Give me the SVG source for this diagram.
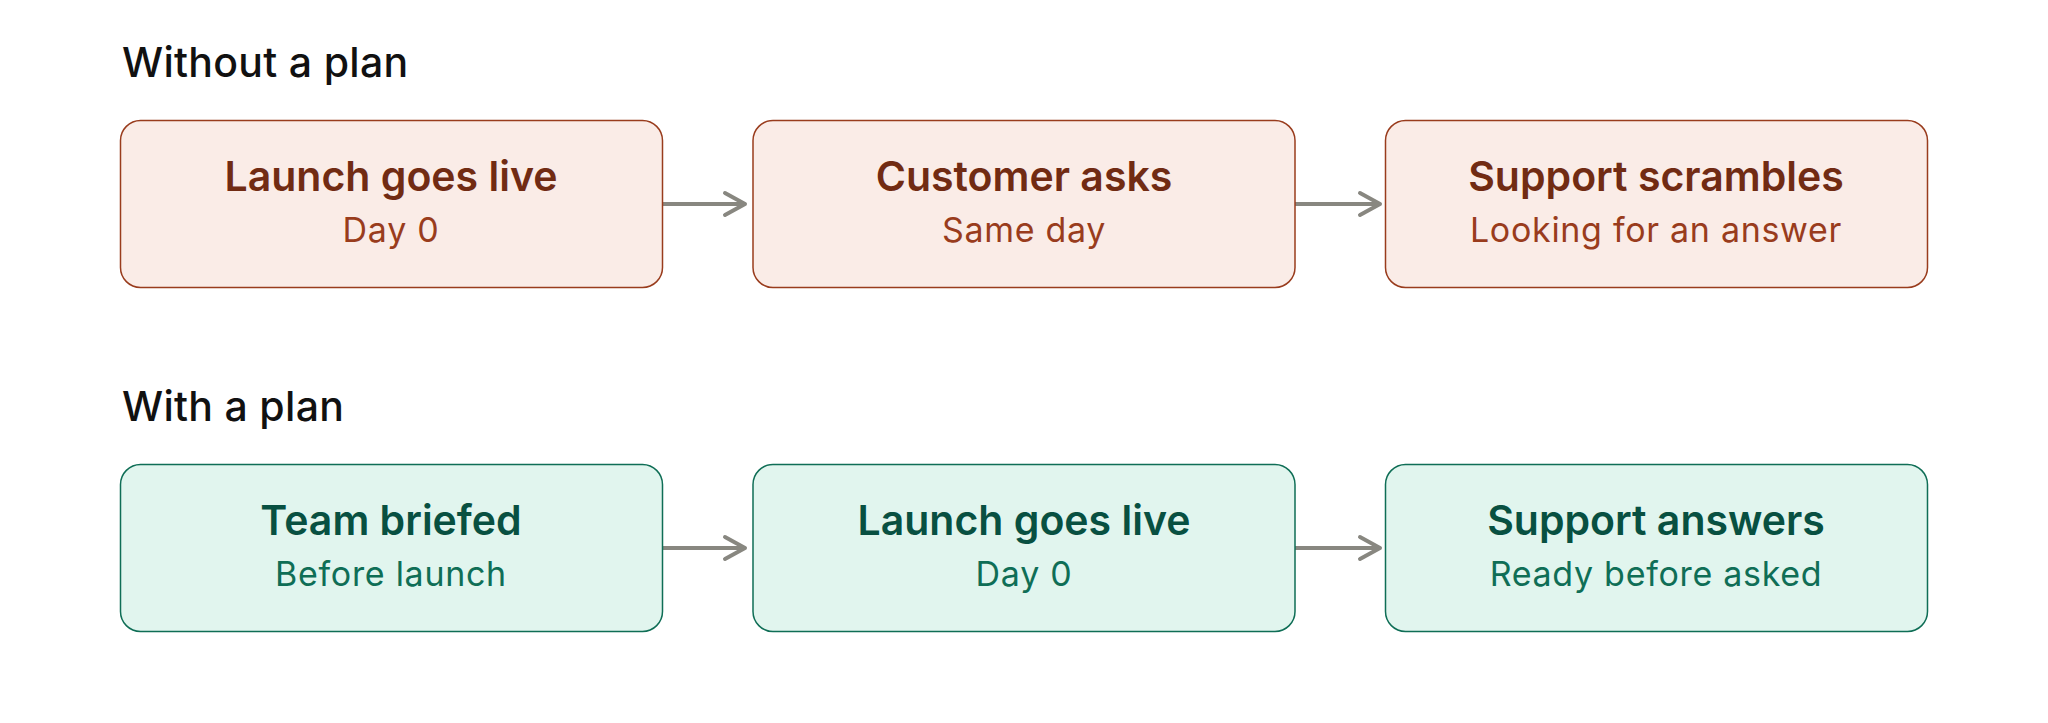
<svg xmlns="http://www.w3.org/2000/svg" width="2048" height="723" viewBox="0 0 2048 723">
<style>
  text { font-family: Inter, "Open Sans", "Liberation Sans", sans-serif; }
  .section { font-size: 41px; font-weight: 500; fill: #111111; letter-spacing: 0.3px; }
  .title { font-size: 41px; font-weight: 600; text-anchor: middle; }
  .sub { font-size: 34px; font-weight: 400; text-anchor: middle; letter-spacing: 0.7px; }
  .warm rect { fill: #FAECE7; stroke: #993C1D; stroke-width: 1.5; }
  .warm .title { fill: #712B13; }
  .warm .sub { fill: #993C1D; }
  .cool rect { fill: #E1F5EE; stroke: #0F6E56; stroke-width: 1.5; }
  .cool .title { fill: #085041; }
  .cool .sub { fill: #0F6E56; }
  .conn { fill: none; stroke: #888780; stroke-width: 4; stroke-linecap: round; stroke-linejoin: round; }
</style>
<rect width="2048" height="723" fill="#ffffff"/>
<text class="section" x="122" y="77">Without a plan</text>
<text class="section" x="122" y="421">With a plan</text>

<g id="connectors">
  <path class="conn" d="M662 204 H745 M725 193 L745 204 L725 215"/>
  <path class="conn" d="M1295 204 H1380 M1360 193 L1380 204 L1360 215"/>
  <path class="conn" d="M662 548 H745 M725 537 L745 548 L725 559"/>
  <path class="conn" d="M1295 548 H1380 M1360 537 L1380 548 L1360 559"/>
</g>

<g id="n-launch-1" class="warm">
  <rect x="120.5" y="120.5" width="542" height="167" rx="20"/>
  <text class="title" x="391" y="191">Launch goes live</text>
  <text class="sub" x="391" y="242">Day 0</text>
</g>
<g id="n-customer" class="warm">
  <rect x="753" y="120.5" width="542" height="167" rx="20"/>
  <text class="title" x="1024" y="191">Customer asks</text>
  <text class="sub" x="1024" y="242">Same day</text>
</g>
<g id="n-scrambles" class="warm">
  <rect x="1385.5" y="120.5" width="542" height="167" rx="20"/>
  <text class="title" x="1656" y="191">Support scrambles</text>
  <text class="sub" x="1656" y="242">Looking for an answer</text>
</g>

<g id="n-briefed" class="cool">
  <rect x="120.5" y="464.5" width="542" height="167" rx="20"/>
  <text class="title" x="391" y="535">Team briefed</text>
  <text class="sub" x="391" y="586">Before launch</text>
</g>
<g id="n-launch-2" class="cool">
  <rect x="753" y="464.5" width="542" height="167" rx="20"/>
  <text class="title" x="1024" y="535">Launch goes live</text>
  <text class="sub" x="1024" y="586">Day 0</text>
</g>
<g id="n-answers" class="cool">
  <rect x="1385.5" y="464.5" width="542" height="167" rx="20"/>
  <text class="title" x="1656" y="535">Support answers</text>
  <text class="sub" x="1656" y="586">Ready before asked</text>
</g>
</svg>
